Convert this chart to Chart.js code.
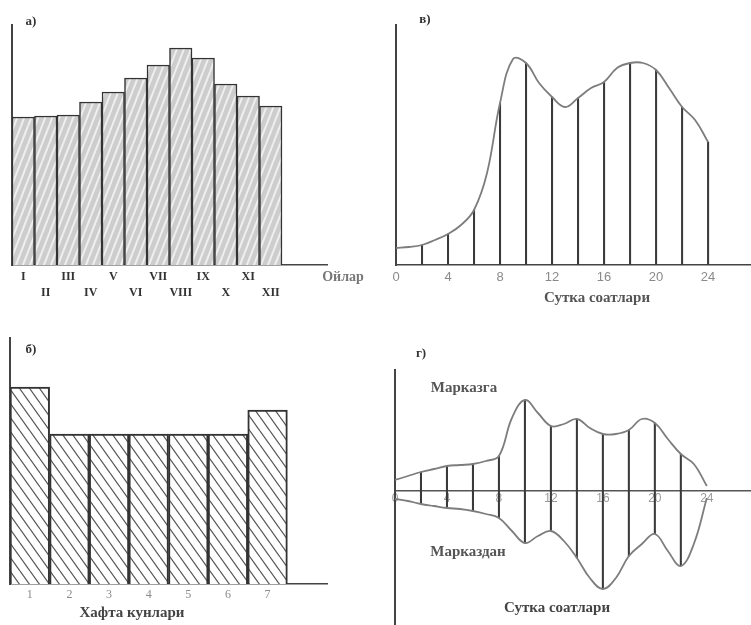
<!DOCTYPE html>
<html lang="uz">
<head>
<meta charset="UTF-8">
<title>Юклама графиклари</title>
<script src="https://cdn.jsdelivr.net/npm/chart.js@4.4.1/dist/chart.umd.min.js"></script>
<style>
    * { margin: 0; padding: 0; }
    body { width: 751px; height: 625px; background: #fff; position: relative; overflow: hidden; }
    .box { position: absolute; }
</style>
</head>
<body>
<div class="box" style="left:0;top:0;width:375px;height:305px"><canvas id="chartA"></canvas></div>
<div class="box" style="left:375px;top:0;width:376px;height:305px"><canvas id="chartV"></canvas></div>
<div class="box" style="left:0;top:305px;width:375px;height:320px"><canvas id="chartB"></canvas></div>
<div class="box" style="left:375px;top:305px;width:376px;height:320px"><canvas id="chartG"></canvas></div>
<script>
    // а) ойлар
    var months = ['I', 'II', 'III', 'IV', 'V', 'VI', 'VII', 'VIII', 'IX', 'X', 'XI', 'XII'];
    var monthLoad = [74, 74.5, 75, 81.5, 86.5, 93.5, 100, 108.5, 103.5, 90.5, 84.5, 79.5];

    // б) хафта кунлари
    var weekDays = ['1', '2', '3', '4', '5', '6', '7'];
    var dayLoad = [98.5, 75, 75, 75, 75, 75, 87];

    // в) сутка соатлари
    var hours = [0, 1, 2, 3, 4, 5, 6, 7, 8, 9, 10, 11, 12, 13, 14, 15, 16, 17, 18, 19, 20, 21, 22, 23, 24];
    var hourLoad = [8.5, 9, 10, 12.5, 15.5, 20, 27.5, 46, 81, 103, 101, 91, 84, 79, 83.5, 88.5, 91.5, 98.5, 101, 101, 97.5, 88.5, 79, 72.5, 61.5];
    var hourTicks = [0, 4, 8, 12, 16, 20, 24];

    // г) марказга / марказдан
    var inLoad = [11, 15, 19, 22, 25, 26, 27, 30, 35, 73, 91, 78, 65, 67, 72, 63, 57, 57, 61, 72, 68, 52, 37, 27, 5];
    var outLoad = [-8, -10, -13, -15, -17, -18, -20, -23, -27, -40, -52, -45, -40, -50, -67, -87, -98, -87, -65, -53, -43, -60, -75, -53, -7];

    var serif = '"Liberation Serif", "DejaVu Serif", serif';
    var sans = '"Liberation Sans", "DejaVu Sans", sans-serif';

    function hatch(bg, fg, w, h, dir, lw) {
        var c = document.createElement('canvas');
        c.width = w; c.height = h;
        var x = c.getContext('2d');
        x.fillStyle = bg;
        x.fillRect(0, 0, w, h);
        x.strokeStyle = fg;
        x.lineWidth = lw;
        for (var k = -1; k <= 1; k++) {
            x.beginPath();
            if (dir > 0) { x.moveTo(k * w, h); x.lineTo(k * w + w, 0); }
            else { x.moveTo(k * w, 0); x.lineTo(k * w + w, h); }
            x.stroke();
        }
        return x.createPattern(c, 'repeat');
    }

    // text labels drawn on top of the chart
    var notes = {
        id: 'notes',
        afterDraw: function (chart, args, opts) {
            var ctx = chart.ctx;
            (opts.items || []).forEach(function (t) {
                ctx.save();
                ctx.font = t.font;
                ctx.fillStyle = t.color;
                ctx.textAlign = 'center';
                ctx.textBaseline = 'middle';
                ctx.fillText(t.text, t.x, t.y);
                ctx.restore();
            });
        }
    };

    function fixW(w) { return function (s) { s.width = w; }; }
    function fixH(h) { return function (s) { s.height = h; }; }
    function hourTickList(s) { s.ticks = hourTicks.map(function (v) { return { value: v }; }); }

    var base = {
        responsive: true,
        maintainAspectRatio: false,
        animation: false,
        events: []
    };

    function opts(extra) {
        return Object.assign({}, base, extra);
    }

    // ---- а)
    new Chart(document.getElementById('chartA'), {
        type: 'bar',
        data: {
            labels: months.concat(['', '']),
            datasets: [{
                data: monthLoad,
                backgroundColor: hatch('#cdcdcd', '#efefef', 7, 18, 1, 2),
                borderColor: '#333',
                borderWidth: 1.5,
                categoryPercentage: 1,
                barPercentage: 1
            }]
        },
        plugins: [notes],
        options: opts({
            layout: { padding: { left: 12, top: 25, right: 48, bottom: 0 } },
            plugins: {
                legend: { display: false },
                tooltip: { enabled: false },
                notes: { items: [
                    { text: 'а)', x: 31, y: 22, font: 'bold 13px ' + serif, color: '#333' },
                    { text: 'Ойлар', x: 343, y: 277, font: 'bold 14px ' + serif, color: '#777' }
                ] }
            },
            scales: {
                x: {
                    afterFit: fixH(40),
                    grid: { display: false, drawTicks: false },
                    border: { color: '#444', width: 1.5 },
                    ticks: {
                        autoSkip: false, maxRotation: 0, padding: 4,
                        color: '#333',
                        font: { family: serif, size: 12, weight: 'bold', lineHeight: '16px' },
                        callback: function (v, i) {
                            var m = this.getLabelForValue(v);
                            if (!m) return '';
                            return i % 2 === 0 ? [m, ''] : ['', m];
                        }
                    }
                },
                y: {
                    min: 0, max: 120,
                    afterFit: fixW(0),
                    grid: { display: false, drawTicks: false },
                    ticks: { display: false },
                    border: { color: '#444', width: 2 }
                }
            }
        })
    });

    // ---- в)
    new Chart(document.getElementById('chartV'), {
        type: 'bar',
        data: {
            datasets: [{
                type: 'line',
                data: hours.map(function (h, i) { return { x: h, y: hourLoad[i] }; }),
                borderColor: '#7d7d7d',
                borderWidth: 1.8,
                pointRadius: 0,
                tension: 0.4,
                fill: false
            }, {
                type: 'bar',
                data: hours.filter(function (h) { return h > 0 && h % 2 === 0; })
                    .map(function (h) { return { x: h, y: hourLoad[hours.indexOf(h)] }; }),
                backgroundColor: '#3a3a3a',
                barThickness: 1.4,
                borderWidth: 0
            }]
        },
        plugins: [notes],
        options: opts({
            layout: { padding: { left: 21, top: 25, right: 0, bottom: 0 } },
            plugins: {
                legend: { display: false },
                tooltip: { enabled: false },
                notes: { items: [
                    { text: 'в)', x: 50, y: 20, font: 'bold 13px ' + serif, color: '#333' },
                    { text: 'Сутка соатлари', x: 222, y: 298, font: 'bold 15px ' + serif, color: '#555' }
                ] }
            },
            scales: {
                x: {
                    type: 'linear', min: 0, max: 27.3, offset: false,
                    afterFit: fixH(40),
                    afterBuildTicks: hourTickList,
                    grid: { display: false, drawTicks: false, offset: false },
                    border: { color: '#444', width: 1.5 },
                    ticks: {
                        padding: 5, maxRotation: 0, autoSkip: false,
                        color: '#8a8a8a',
                        font: { family: sans, size: 13 }
                    }
                },
                y: {
                    min: 0, max: 120,
                    afterFit: fixW(0),
                    grid: { display: false, drawTicks: false },
                    ticks: { display: false },
                    border: { color: '#444', width: 2 }
                }
            }
        })
    });

    // ---- б)
    new Chart(document.getElementById('chartB'), {
        type: 'bar',
        data: {
            labels: weekDays.concat(['']),
            datasets: [{
                data: dayLoad,
                backgroundColor: hatch('#ffffff', '#555', 10, 14, -1, 1.2),
                borderColor: '#333',
                borderWidth: 2,
                categoryPercentage: 1,
                barPercentage: 1
            }]
        },
        plugins: [notes],
        options: opts({
            layout: { padding: { left: 10, top: 33, right: 48, bottom: 0 } },
            plugins: {
                legend: { display: false },
                tooltip: { enabled: false },
                notes: { items: [
                    { text: 'б)', x: 31, y: 45, font: 'bold 13px ' + serif, color: '#333' },
                    { text: 'Хафта кунлари', x: 132, y: 308, font: 'bold 15px ' + serif, color: '#444' }
                ] }
            },
            scales: {
                x: {
                    afterFit: fixH(41),
                    grid: { display: false, drawTicks: false },
                    border: { color: '#444', width: 1.5 },
                    ticks: {
                        autoSkip: false, maxRotation: 0, padding: 4,
                        color: '#8a8a8a',
                        font: { family: serif, size: 12 }
                    }
                },
                y: {
                    min: 0, max: 123,
                    afterFit: fixW(0),
                    grid: { display: false, drawTicks: false },
                    ticks: { display: false },
                    border: { color: '#444', width: 2 }
                }
            }
        })
    });

    // ---- г)
    new Chart(document.getElementById('chartG'), {
        type: 'bar',
        data: {
            datasets: [{
                type: 'line',
                data: hours.map(function (h, i) { return { x: h, y: inLoad[i] }; }),
                borderColor: '#7d7d7d',
                borderWidth: 1.8,
                pointRadius: 0,
                tension: 0.4,
                fill: false
            }, {
                type: 'line',
                data: hours.map(function (h, i) { return { x: h, y: outLoad[i] }; }),
                borderColor: '#7d7d7d',
                borderWidth: 1.8,
                pointRadius: 0,
                tension: 0.4,
                fill: false
            }, {
                type: 'bar',
                data: hours.filter(function (h) { return h > 0 && h < 24 && h % 2 === 0; })
                    .map(function (h) { var i = hours.indexOf(h); return { x: h, y: [outLoad[i], inLoad[i]] }; }),
                backgroundColor: '#3a3a3a',
                barThickness: 1.4,
                borderWidth: 0
            }]
        },
        plugins: [notes],
        options: opts({
            layout: { padding: { left: 20, top: 65, right: 0, bottom: 0 } },
            plugins: {
                legend: { display: false },
                tooltip: { enabled: false },
                notes: { items: [
                    { text: 'г)', x: 46, y: 49, font: 'bold 13px ' + serif, color: '#333' },
                    { text: 'Марказга', x: 89, y: 83, font: 'bold 15px ' + serif, color: '#555' },
                    { text: 'Марказдан', x: 93, y: 247, font: 'bold 15px ' + serif, color: '#555' },
                    { text: 'Сутка соатлари', x: 182, y: 303, font: 'bold 15px ' + serif, color: '#444' }
                ] }
            },
            scales: {
                x: {
                    type: 'linear', min: 0, max: 27.4, offset: false,
                    position: { y: 0 },
                    afterBuildTicks: hourTickList,
                    grid: { display: false, drawTicks: false, offset: false },
                    border: { color: '#555', width: 1.5 },
                    ticks: {
                        padding: 0, maxRotation: 0, autoSkip: false,
                        color: '#9a9a9a',
                        font: { family: sans, size: 12 }
                    }
                },
                y: {
                    min: -134, max: 121,
                    afterFit: fixW(0),
                    grid: { display: false, drawTicks: false },
                    ticks: { display: false },
                    border: { color: '#444', width: 2 }
                }
            }
        })
    });
</script>
</body>
</html>
